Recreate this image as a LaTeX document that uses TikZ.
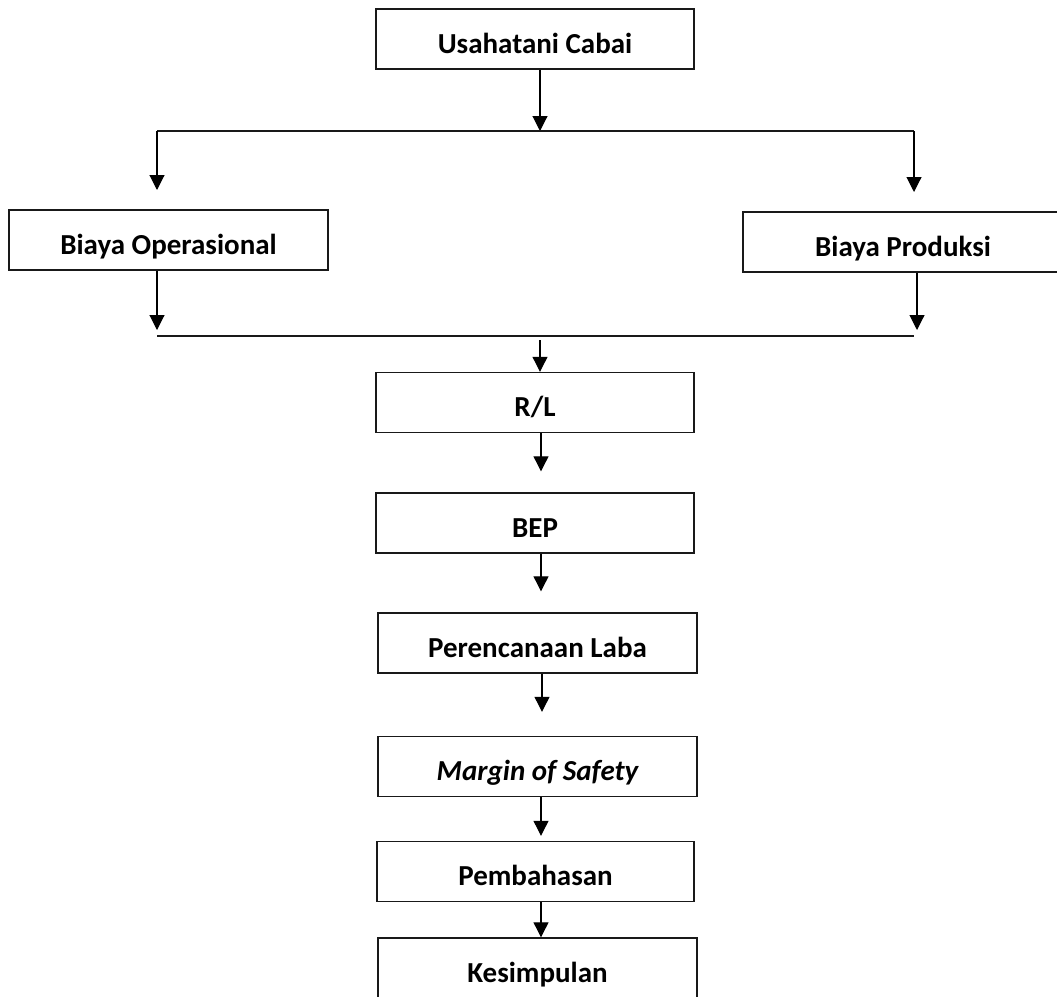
\documentclass[tikz,border=0pt]{standalone}
\usepackage{fontspec}
\setmainfont{Carlito}
\usetikzlibrary{arrows.meta}
\begin{document}
\begin{tikzpicture}[x=1pt,y=-1pt,
  box/.style={draw=black!90,line width=1.4pt,rectangle,minimum width=318pt,minimum height=60pt,
    inner sep=0pt,text height=28pt,text depth=0pt,font=\fontsize{29}{33}\selectfont\bfseries},
  arr/.style={draw=black,line width=1.1pt,-{Triangle[width=15pt,length=15pt]}},
  ln/.style={draw=black!90,line width=1.4pt}]
\useasboundingbox (0,0) rectangle (1057,996);
\clip (0,0) rectangle (1057,996);
\node[box] (top) at (535,39) {Usahatani Cabai};
\node[box,minimum width=319pt] (bo) at (168.5,240) {Biaya Operasional};
\node[box,minimum width=320pt] (bp) at (903,242) {Biaya Produksi};
\node[box] (rl) at (535,402.5) {R/L};
\node[box] (bep) at (535,523) {BEP};
\node[box,minimum width=319pt] (pl) at (537.5,643) {Perencanaan Laba};
\node[box,minimum width=319pt] (mos) at (537.5,766.5) {\itshape Margin of Safety};
\node[box,minimum width=317pt] (pem) at (535.5,871.5) {Pembahasan};
\node[box,minimum width=319pt] (kes) at (537.5,968) {Kesimpulan};
% junction points
\coordinate (j1) at (540,131);
\coordinate (hl) at (157,131);
\coordinate (hr) at (914,131);
\coordinate (tl) at (157,190);
\coordinate (tr) at (914,192);
\coordinate (bl) at (157,336);
\coordinate (br) at (914,336);
\coordinate (tbl) at (157,330);
\coordinate (tbr) at (917,330);
\coordinate (j2) at (540,340);
% connectors
\draw[arr] (top.south -| j1) -- (j1);
\draw[ln] (hl) -- (hr);
\draw[arr] (hl) -- (tl);
\draw[arr] (hr) -- (tr);
\draw[arr] (bo.south -| tbl) -- (tbl);
\draw[arr] (bp.south -| tbr) -- (tbr);
\draw[ln] (bl) -- (br);
\draw[arr] (j2) -- (rl.north -| j2);
\draw[arr] ([xshift=6pt]rl.south) -- ([xshift=6pt,yshift=21pt]bep.north);
\draw[arr] ([xshift=6pt]bep.south) -- ([xshift=6pt,yshift=21pt]pl.north -| bep.north);
\draw[arr] ([xshift=4.5pt]pl.south) -- ([xshift=4.5pt,yshift=24pt]mos.north);
\draw[arr] ([xshift=3.5pt]mos.south) -- ([xshift=3.5pt,yshift=5pt]pem.north -| mos.north);
\draw[arr] ([xshift=5.5pt]pem.south) -- ([xshift=5.5pt]kes.north -| pem.north);
\end{tikzpicture}
\end{document}
